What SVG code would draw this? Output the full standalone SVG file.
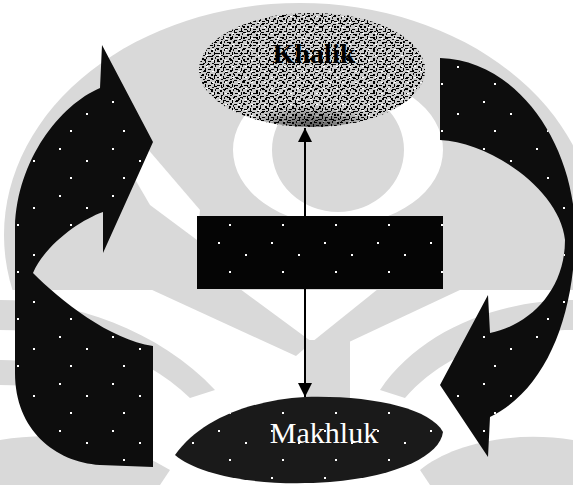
<svg xmlns="http://www.w3.org/2000/svg" xmlns:xlink="http://www.w3.org/1999/xlink" width="573" height="485" viewBox="0 0 573 485">
<style>
.wm{fill:#d9d9d9}
.wmw{fill:#ffffff}
.dark{fill:#0d0d0d}
.lbl{font-family:"Liberation Serif","Times New Roman",serif}
.conn{stroke:#000;stroke-width:2;fill:none}
</style>
<defs>
<pattern id="stip" width="9" height="8" patternUnits="userSpaceOnUse">
<rect width="9" height="8" fill="#cbcbcb"/>
<rect x="0" y="0" width="3" height="1" fill="#000"/>
<rect x="4" y="2" width="2" height="2" fill="#000"/>
<rect x="7" y="4" width="1" height="3" fill="#000"/>
<rect x="1" y="5" width="3" height="1" fill="#000"/>
<rect x="5" y="7" width="2" height="1" fill="#111"/>
<rect x="8" y="1" width="1" height="2" fill="#111"/>
</pattern>
<pattern id="stip2" width="13" height="11" patternUnits="userSpaceOnUse">
<rect x="2" y="1" width="3" height="1" fill="#000"/>
<rect x="9" y="4" width="2" height="2" fill="#000"/>
<rect x="0" y="8" width="1" height="2" fill="#000"/>
<rect x="6" y="9" width="3" height="1" fill="#000"/>
<rect x="11" y="0" width="2" height="1" fill="#fff"/>
<rect x="4" y="5" width="2" height="1" fill="#fff"/>
</pattern>
<pattern id="speck" width="53" height="47" patternUnits="userSpaceOnUse">
<rect x="6" y="7" width="2" height="2" fill="#fff"/>
<rect x="33" y="19" width="2" height="2" fill="#fff"/>
<rect x="17" y="36" width="2" height="2" fill="#fff"/>
</pattern>
<radialGradient id="kdark" cx="0.5" cy="1" r="0.5">
<stop offset="0" stop-color="#000" stop-opacity="0.6"/>
<stop offset="1" stop-color="#000" stop-opacity="0"/>
</radialGradient>
<marker id="ah" viewBox="0 0 14 14" refX="14" refY="7" markerWidth="14" markerHeight="14" markerUnits="userSpaceOnUse" orient="auto-start-reverse">
<path d="M0,0 L14,7 L0,14 Z" fill="#000"/>
</marker>
<path id="pl" d="M100,88 C60,105 17,160 15,227 L15,373 C15,430 55,462 100,465 L153,467 L153,346 C110,340 60,300 33,273 C45,245 80,220 103,212 L103,253 L153,142 L102,45 Z"/>
<path id="pr" d="M440,58 C520,60 578,150 575,240 C573,320 545,390 490,417 L488,457 L440,385 L488,295 L490,333 C530,325 565,290 565,240 C560,190 490,142 440,140 Z"/>
<path id="pm" d="M175,455 C200,420 250,400 305,397 C370,395 430,408 443,432 C440,455 400,476 330,482 C260,487 200,476 175,455 Z"/>
</defs>
<rect width="573" height="485" fill="#fff"/>
<g id="watermark">
<ellipse class="wm" cx="300" cy="235" rx="296" ry="232"/>
<path class="wmw" fill-rule="evenodd" d="M233,150 A105,75 0 1 0 443,150 A105,75 0 1 0 233,150 Z M272,150 A66,62 0 1 0 404,150 A66,62 0 1 0 272,150 Z"/>
<polygon class="wmw" points="118,150 140,140 200,210 197,240 150,205"/>
<rect class="wmw" x="0" y="290" width="573" height="195"/>
<polygon class="wm" points="150,289 240,289 312,342 296,356"/>
<polygon class="wm" points="378,289 462,289 332,350 312,342"/>
<rect class="wm" x="304" y="340" width="46" height="60"/>
<path class="wm" d="M0,300 C70,300 160,330 215,390 L190,398 C140,350 70,330 0,330 Z"/>
<path class="wm" d="M573,300 C500,300 420,330 380,390 L405,398 C445,352 510,330 573,330 Z"/>
<path class="wm" d="M0,440 C60,430 120,440 170,470 L160,485 L0,485 Z"/>
<path class="wm" d="M573,440 C510,430 450,445 420,470 L430,485 L573,485 Z"/>
<path class="wm" d="M0,360 C60,360 110,380 150,410 L150,425 C110,400 60,385 0,385 Z"/>
</g>
<g id="connectors">
<g id="arrow-left">
<use xlink:href="#pl" class="dark"/>
<use xlink:href="#pl" fill="url(#speck)"/>
</g>
<g id="arrow-right">
<use xlink:href="#pr" class="dark"/>
<use xlink:href="#pr" fill="url(#speck)"/>
</g>
<line id="link-khalik-makhluk" class="conn" x1="305" y1="128" x2="305" y2="397" marker-start="url(#ah)" marker-end="url(#ah)"/>
</g>
<g id="node-khalik">
<ellipse cx="312" cy="70" rx="113" ry="57" fill="url(#stip)"/>
<ellipse cx="312" cy="70" rx="113" ry="57" fill="url(#stip2)"/>
<ellipse cx="312" cy="105" rx="70" ry="22" fill="url(#kdark)"/>
<text class="lbl" x="314" y="63" font-size="28" font-weight="bold" text-anchor="middle" fill="#000">Khalik</text>
</g>
<g id="node-box">
<rect x="197" y="216" width="246" height="73" fill="#050505"/>
<rect x="197" y="216" width="246" height="73" fill="url(#speck)"/>
</g>
<g id="node-makhluk">
<use xlink:href="#pm" fill="#1a1a1a"/>
<use xlink:href="#pm" fill="url(#speck)"/>
<text class="lbl" x="324" y="443" font-size="30" text-anchor="middle" fill="#fff">Makhluk</text>
</g>
</svg>
